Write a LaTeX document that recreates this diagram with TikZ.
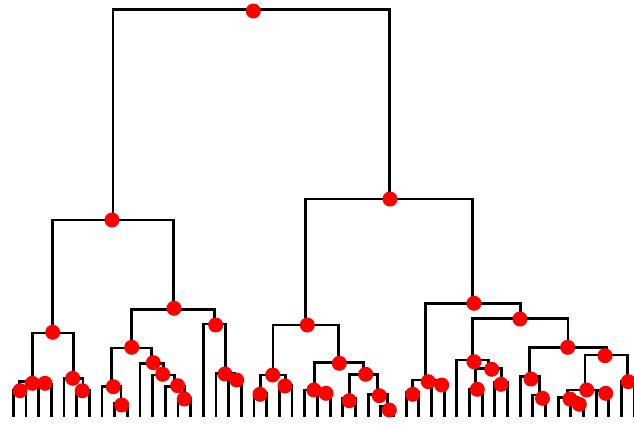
\documentclass[tikz,border=0pt]{standalone}
\begin{document}
\begin{tikzpicture}[x=1pt,y=-1pt,
  link/.style={line width=2.9pt, draw=black},
  dot/.style={circle, fill=red, draw=none, inner sep=0pt, minimum size=15pt}]
\useasboundingbox (0,0) rectangle (634,424);
% leaves
\foreach \i in {0,...,49} { \coordinate (L\i) at ({13.3+12.67*\i},416.7); }
% merge points
\coordinate (n01) at (19.6,390);
\coordinate (n23) at (44.98,384);
\coordinate (n0123) at (32.3,381.7);
\coordinate (n56) at (82.99,390);
\coordinate (n456) at (73.5,378.3);
\coordinate (nA) at (52.9,333);
\coordinate (n89) at (121.0,403.3);
\coordinate (n789) at (111.5,386.7);
\coordinate (n1314) at (184.35,398);
\coordinate (n1214) at (174.85,386.7);
\coordinate (n1114) at (163.76,375);
\coordinate (n1014) at (151.88,363.3);
\coordinate (nB1) at (131.7,348);
\coordinate (n1718) at (235.0,380);
\coordinate (n1618) at (225.5,373.3);
\coordinate (nB2) at (214.4,324);
\coordinate (nB) at (173.05,309.3);
\coordinate (nL) at (113,220);
\coordinate (n1920) at (260.37,393.3);
\coordinate (n2122) at (285.7,385);
\coordinate (n1922) at (273.0,375);
\coordinate (n2425) at (323.7,393);
\coordinate (n2325) at (314.2,390);
\coordinate (n2627) at (349.06,398);
\coordinate (n2930) at (387.07,406.7);
\coordinate (n2830) at (377.56,394.3);
\coordinate (n2630) at (363.3,374.3);
\coordinate (n2330) at (338.75,362.3);
\coordinate (nC) at (305.9,325);
\coordinate (n3132) at (412.4,392);
\coordinate (n3334) at (437.75,384);
\coordinate (n3134) at (425.1,380);
\coordinate (n3637) at (475.76,389);
\coordinate (n3839) at (501.1,382);
\coordinate (n3639) at (488.4,368.3);
\coordinate (n3539) at (472.6,360);
\coordinate (n4142) at (539.1,395);
\coordinate (n4042) at (529.6,376.7);
\coordinate (n4445) at (577.1,401);
\coordinate (n4345) at (567.6,397.3);
\coordinate (n4647) at (602.45,390.5);
\coordinate (n4347) at (585.0,390);
\coordinate (n4849) at (627.8,381.7);
\coordinate (n4349) at (606.4,355);
\coordinate (n4049) at (568.0,347.3);
\coordinate (n3549) at (520.3,318.3);
\coordinate (nD) at (472.7,303.3);
\coordinate (nR) at (389.3,199);
\coordinate (root) at (251.1,9.3);
% links
\draw[link] (L0) |- (n01) -| (L1);
\draw[link] (L2) |- (n23) -| (L3);
\draw[link] (n01) |- (n0123) -| (n23);
\draw[link] (L5) |- (n56) -| (L6);
\draw[link] (L4) |- (n456) -| (n56);
\draw[link] (n0123) |- (nA) -| (n456);
\draw[link] (L8) |- (n89) -| (L9);
\draw[link] (L7) |- (n789) -| (n89);
\draw[link] (L13) |- (n1314) -| (L14);
\draw[link] (L12) |- (n1214) -| (n1314);
\draw[link] (L11) |- (n1114) -| (n1214);
\draw[link] (L10) |- (n1014) -| (n1114);
\draw[link] (n789) |- (nB1) -| (n1014);
\draw[link] (L17) |- (n1718) -| (L18);
\draw[link] (L16) |- (n1618) -| (n1718);
\draw[link] (L15) |- (nB2) -| (n1618);
\draw[link] (nB1) |- (nB) -| (nB2);
\draw[link] (nA) |- (nL) -| (nB);
\draw[link] (L19) |- (n1920) -| (L20);
\draw[link] (L21) |- (n2122) -| (L22);
\draw[link] (n1920) |- (n1922) -| (n2122);
\draw[link] (L24) |- (n2425) -| (L25);
\draw[link] (L23) |- (n2325) -| (n2425);
\draw[link] (L26) |- (n2627) -| (L27);
\draw[link] (L29) |- (n2930) -| (L30);
\draw[link] (L28) |- (n2830) -| (n2930);
\draw[link] (n2627) |- (n2630) -| (n2830);
\draw[link] (n2325) |- (n2330) -| (n2630);
\draw[link] (n1922) |- (nC) -| (n2330);
\draw[link] (L31) |- (n3132) -| (L32);
\draw[link] (L33) |- (n3334) -| (L34);
\draw[link] (n3132) |- (n3134) -| (n3334);
\draw[link] (L36) |- (n3637) -| (L37);
\draw[link] (L38) |- (n3839) -| (L39);
\draw[link] (n3637) |- (n3639) -| (n3839);
\draw[link] (L35) |- (n3539) -| (n3639);
\draw[link] (L41) |- (n4142) -| (L42);
\draw[link] (L40) |- (n4042) -| (n4142);
\draw[link] (L44) |- (n4445) -| (L45);
\draw[link] (L43) |- (n4345) -| (n4445);
\draw[link] (L46) |- (n4647) -| (L47);
\draw[link] (n4345) |- (n4347) -| (n4647);
\draw[link] (L48) |- (n4849) -| (L49);
\draw[link] (n4347) |- (n4349) -| (n4849);
\draw[link] (n4042) |- (n4049) -| (n4349);
\draw[link] (n3539) |- (n3549) -| (n4049);
\draw[link] (n3134) |- (nD) -| (n3549);
\draw[link] (nC) |- (nR) -| (nD);
\draw[link] (nL) |- (root) -| (nR);
% dots
\node[dot] (d01) at (20,390.7) {};
\node[dot] (d23) at (45,383.3) {};
\node[dot] (d0123) at (32.3,383.3) {};
\node[dot] (d56) at (82.3,390.7) {};
\node[dot] (d456) at (72.7,378.3) {};
\node[dot] (dA) at (52.7,332.3) {};
\node[dot] (d89) at (121.7,405) {};
\node[dot] (d789) at (113.3,386.7) {};
\node[dot] (d1314) at (184.3,399) {};
\node[dot] (d1214) at (177.7,385.7) {};
\node[dot] (d1114) at (162.7,374.3) {};
\node[dot] (d1014) at (153.3,362.7) {};
\node[dot] (dB1) at (131.7,347.3) {};
\node[dot] (d1718) at (236.7,380) {};
\node[dot] (d1618) at (225,374) {};
\node[dot] (dB2) at (215.7,325) {};
\node[dot] (dB) at (174,308.3) {};
\node[dot] (dL) at (112,220) {};
\node[dot] (d1920) at (260,394.3) {};
\node[dot] (d2122) at (285,386) {};
\node[dot] (d1922) at (272.7,375) {};
\node[dot] (d2425) at (326,393.3) {};
\node[dot] (d2325) at (314,390) {};
\node[dot] (d2627) at (349.3,400.7) {};
\node[dot] (d2930) at (389.3,410) {};
\node[dot] (d2830) at (379.3,395.7) {};
\node[dot] (d2630) at (365.7,374.3) {};
\node[dot] (d2330) at (339.3,363.3) {};
\node[dot] (dC) at (307.3,325) {};
\node[dot] (d3132) at (412.7,394.3) {};
\node[dot] (d3334) at (441.7,385) {};
\node[dot] (d3134) at (428.3,381.7) {};
\node[dot] (d3637) at (477.3,389.3) {};
\node[dot] (d3839) at (501,384.3) {};
\node[dot] (d3639) at (491.7,369.3) {};
\node[dot] (d3539) at (474,361.7) {};
\node[dot] (d4142) at (542.5,398.3) {};
\node[dot] (d4042) at (531,379) {};
\node[dot] (d4445) at (579.3,404.3) {};
\node[dot] (d4345) at (570,399) {};
\node[dot] (d4647) at (605.7,393.3) {};
\node[dot] (d4347) at (586.7,390) {};
\node[dot] (d4849) at (628.3,381.7) {};
\node[dot] (d4349) at (605,355.7) {};
\node[dot] (d4049) at (567.7,347.3) {};
\node[dot] (d3549) at (520,319) {};
\node[dot] (dD) at (474,303.3) {};
\node[dot] (dR) at (390,199) {};
\node[dot] (droot) at (253.3,11) {};
\end{tikzpicture}
\end{document}
